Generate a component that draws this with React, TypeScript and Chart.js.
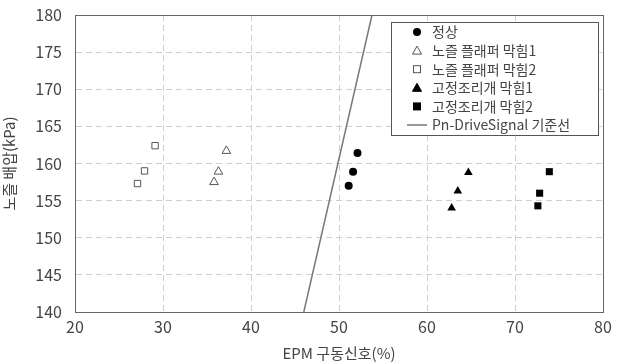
import React, { useEffect, useRef } from "react";
import { Chart, registerables } from "chart.js";

Chart.register(...registerables);

const xTicks = [20, 30, 40, 50, 60, 70, 80];
const yTicks = [140, 145, 150, 155, 160, 165, 170, 175, 180];

const normalX = [52.1, 51.6, 51.1];
const normalY = [161.4, 158.9, 157.0];
const flapper1X = [37.2, 36.3, 35.8];
const flapper1Y = [161.7, 158.9, 157.5];
const flapper2X = [29.1, 27.9, 27.1];
const flapper2Y = [162.4, 159.0, 157.3];
const orifice1X = [64.7, 63.5, 62.8];
const orifice1Y = [158.8, 156.3, 154.0];
const orifice2X = [73.9, 72.8, 72.6];
const orifice2Y = [158.9, 156.0, 154.3];
const refLineX = [46.0, 53.75];
const refLineY = [140, 180];

const labels = [
  "정상",
  "노즐 플래퍼 막힘1",
  "노즐 플래퍼 막힘2",
  "고정조리개 막힘1",
  "고정조리개 막힘2",
  "Pn-DriveSignal 기준선",
];

const FONT = "'Noto Sans CJK KR', 'Noto Sans', sans-serif";
const TEXT = "#444";

const pts = (xs: number[], ys: number[]) => xs.map((x, i) => ({ x, y: ys[i] }));

const frameLegendPlugin = {
  id: "frameLegend",
  afterDraw(chart: any) {
    const { ctx, chartArea } = chart;
    ctx.save();
    ctx.strokeStyle = "#666";
    ctx.lineWidth = 1;
    ctx.strokeRect(
      Math.round(chartArea.left) + 0.5,
      Math.round(chartArea.top) + 0.5,
      Math.round(chartArea.right - chartArea.left),
      Math.round(chartArea.bottom - chartArea.top)
    );
    // legend box
    const bx = Math.round(chartArea.right) - 212;
    const by = Math.round(chartArea.top) + 7;
    const bw = 207;
    const bh = 113;
    ctx.fillStyle = "#fff";
    ctx.fillRect(bx, by, bw, bh);
    ctx.strokeStyle = "#555";
    ctx.strokeRect(bx + 0.5, by + 0.5, bw, bh);
    const rowH = 18.6;
    const mx = bx + 26;
    const tx = bx + 41;
    ctx.font = `14px ${FONT}`;
    ctx.textBaseline = "middle";
    chart.data.datasets.forEach((ds: any, i: number) => {
      const y = by + 10 + i * rowH;
      ctx.fillStyle = TEXT;
      ctx.fillText(labels[i], tx, y);
      ctx.lineWidth = 1;
      if (i === 5) {
        ctx.strokeStyle = "#777";
        ctx.lineWidth = 1.5;
        ctx.beginPath();
        ctx.moveTo(mx - 10, y);
        ctx.lineTo(mx + 10, y);
        ctx.stroke();
        return;
      }
      ctx.fillStyle = ds.backgroundColor;
      ctx.strokeStyle = ds.borderColor;
      ctx.lineWidth = 1;
      const s = ds.pointStyle;
      if (s === "circle") {
        ctx.beginPath();
        ctx.arc(mx, y, 4, 0, Math.PI * 2);
        ctx.fill();
      } else if (s === "rect") {
        if (ds.backgroundColor === "#fff") {
          ctx.fillRect(mx - 3.5, y - 3.5, 7, 7);
          ctx.strokeRect(mx - 3.5, y - 3.5, 7, 7);
        } else {
          ctx.fillRect(mx - 4, y - 4, 8, 8);
        }
      } else if (s === "triangle") {
        ctx.beginPath();
        ctx.moveTo(mx, y - 4.5);
        ctx.lineTo(mx + 4.5, y + 3.5);
        ctx.lineTo(mx - 4.5, y + 3.5);
        ctx.closePath();
        ctx.fill();
        ctx.stroke();
      }
    });
    ctx.restore();
  },
};

export default function App() {
  const ref = useRef<HTMLCanvasElement | null>(null);
  useEffect(() => {
    document.body.style.margin = "0";
    const canvas = ref.current!;
    const chart = new Chart(canvas, {
      type: "scatter",
      data: {
        datasets: [
          {
            label: labels[0],
            data: pts(normalX, normalY),
            pointStyle: "circle",
            pointRadius: 4,
            backgroundColor: "#000",
            borderColor: "#000",
            borderWidth: 0,
          },
          {
            label: labels[1],
            data: pts(flapper1X, flapper1Y),
            pointStyle: "triangle",
            pointRadius: 5,
            backgroundColor: "#fff",
            borderColor: "#555",
            borderWidth: 1,
          },
          {
            label: labels[2],
            data: pts(flapper2X, flapper2Y),
            pointStyle: "rect",
            pointRadius: 4.5,
            backgroundColor: "#fff",
            borderColor: "#555",
            borderWidth: 1,
          },
          {
            label: labels[3],
            data: pts(orifice1X, orifice1Y),
            pointStyle: "triangle",
            pointRadius: 5,
            backgroundColor: "#000",
            borderColor: "#000",
            borderWidth: 0,
          },
          {
            label: labels[4],
            data: pts(orifice2X, orifice2Y),
            pointStyle: "rect",
            pointRadius: 5,
            backgroundColor: "#000",
            borderColor: "#000",
            borderWidth: 0,
          },
          {
            type: "line" as any,
            label: labels[5],
            data: pts(refLineX, refLineY),
            showLine: true,
            pointRadius: 0,
            borderColor: "#777",
            borderWidth: 1.5,
            backgroundColor: "#777",
          },
        ],
      },
      plugins: [frameLegendPlugin],
      options: {
        animation: false,
        responsive: false,
        maintainAspectRatio: false,
        layout: { padding: { top: 15, right: 19, left: 0, bottom: 0 } },
        plugins: { legend: { display: false }, tooltip: { enabled: false } },
        scales: {
          x: {
            type: "linear",
            min: 20,
            max: 80,
            afterBuildTicks: (s: any) => {
              s.ticks = xTicks.map((v) => ({ value: v }));
            },
            afterFit: (s: any) => {
              s.height = 50;
              s.paddingLeft = 0;
              s.paddingRight = 0;
            },
            grid: { color: "#cfcfcf", lineWidth: 1, drawTicks: false },
            border: { display: true, color: "#666", dash: [6, 4] as any },
            ticks: {
              color: TEXT,
              font: { family: FONT, size: 16 },
              padding: 5,
              maxRotation: 0,
            },
            title: {
              display: true,
              text: "EPM 구동신호(%)",
              color: TEXT,
              font: { family: FONT, size: 15 },
              padding: { top: 0, bottom: 0 },
            },
          },
          y: {
            type: "linear",
            min: 140,
            max: 180,
            afterBuildTicks: (s: any) => {
              s.ticks = yTicks.map((v) => ({ value: v }));
            },
            afterFit: (s: any) => {
              s.width = 75;
              s.paddingTop = 0;
              s.paddingBottom = 0;
            },
            grid: { color: "#cfcfcf", lineWidth: 1, drawTicks: false },
            border: { display: true, color: "#666", dash: [6, 4] as any },
            ticks: {
              color: TEXT,
              font: { family: FONT, size: 16 },
              padding: 13,
            },
            title: {
              display: true,
              text: "노즐 배압(kPa)",
              color: TEXT,
              font: { family: FONT, size: 15 },
              padding: { top: 0, bottom: 0 },
            },
          },
        },
      },
    } as any);
    return () => chart.destroy();
  }, []);
  return (
    <div style={{ width: 622, height: 362 }}>
      <canvas ref={ref} width={622} height={362} style={{ display: "block" }} />
    </div>
  );
}
